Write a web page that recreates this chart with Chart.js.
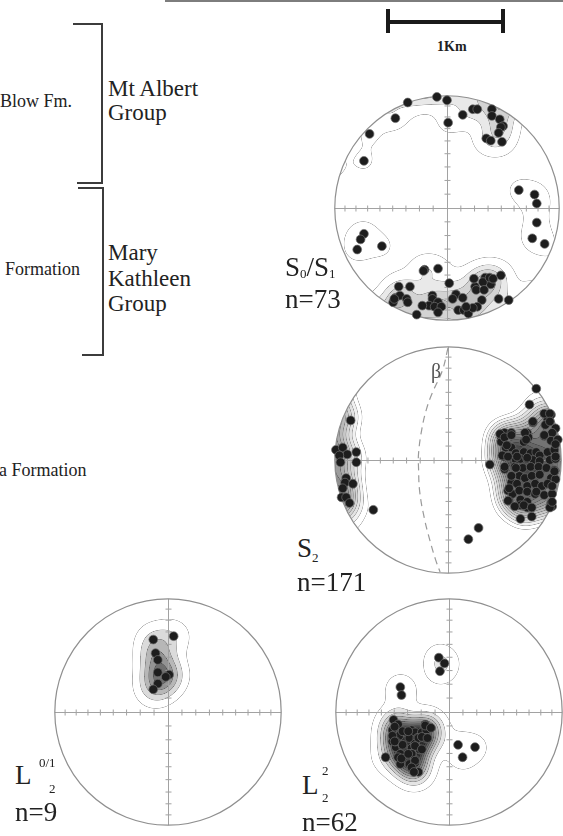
<!DOCTYPE html>
<html>
<head>
<meta charset="utf-8">
<script src="https://cdn.jsdelivr.net/npm/chart.js@4.4.1/dist/chart.umd.min.js"></script>
<style>
html, body { margin: 0; padding: 0; background: #fff; }
body { width: 563px; height: 836px; position: relative; overflow: hidden; color: #222; }
.t { position: absolute; white-space: nowrap; line-height: 1; z-index: 2;
     font-family: "Liberation Serif", "DejaVu Serif", "Noto Serif", "Times New Roman", serif; }
.sb { font-size: 13px; vertical-align: -2px; }
.ln { position: absolute; background: #3c3c3c; }
.net { position: absolute; width: 250px; height: 250px; z-index: 1; }
</style>
</head>
<body>

<div class="ln" style="left:165px;top:0;width:398px;height:2px;background:#7d7d7d"></div>

<!-- scale bar -->
<div class="ln" style="left:386px;top:9px;width:4px;height:24px;background:#1a1a1a"></div>
<div class="ln" style="left:501px;top:9px;width:4px;height:24px;background:#1a1a1a"></div>
<div class="ln" style="left:388px;top:20px;width:115px;height:4px;background:#1a1a1a"></div>
<div class="t" style="left:437px;top:40px;font-size:14px;font-weight:bold">1Km</div>

<!-- stratigraphy brackets -->
<div class="ln" style="left:73px;top:23px;width:30px;height:2px"></div>
<div class="ln" style="left:101px;top:23px;width:2px;height:161px"></div>
<div class="ln" style="left:77px;top:182px;width:26px;height:2px"></div>
<div class="ln" style="left:78px;top:187px;width:25px;height:2px"></div>
<div class="ln" style="left:102px;top:187px;width:2px;height:168px"></div>
<div class="ln" style="left:82px;top:354px;width:22px;height:2px"></div>

<div class="t" style="left:0;top:92px;font-size:18px">Blow Fm.</div>
<div class="t" style="left:108px;top:77px;font-size:23px">Mt Albert</div>
<div class="t" style="left:108px;top:101px;font-size:23px">Group</div>
<div class="t" style="left:5px;top:260px;font-size:18px">Formation</div>
<div class="t" style="left:108px;top:241px;font-size:23px">Mary</div>
<div class="t" style="left:108px;top:267px;font-size:23px">Kathleen</div>
<div class="t" style="left:108px;top:292px;font-size:23px">Group</div>
<div class="t" style="left:-1px;top:461px;font-size:18px">a Formation</div>

<!-- stereonets -->
<canvas id="netS01" class="net" width="250" height="250" style="left:322px;top:83px"></canvas>
<canvas id="netS2" class="net" width="250" height="250" style="left:323px;top:335px"></canvas>
<canvas id="netL01" class="net" width="250" height="250" style="left:43px;top:587px"></canvas>
<canvas id="netL2" class="net" width="250" height="250" style="left:324px;top:587px"></canvas>

<!-- labels -->
<div class="t" style="left:285px;top:254px;font-size:27px">S<span class="sb">0</span>/S<span class="sb">1</span></div>
<div class="t" style="left:285px;top:286px;font-size:27px">n=73</div>
<div class="t" style="left:297px;top:535px;font-size:27px">S<span class="sb" style="vertical-align:-5px">2</span></div>
<div class="t" style="left:297px;top:569px;font-size:27px">n=171</div>
<div class="t" style="left:431px;top:361px;font-size:20px;color:#555">β</div>
<div class="t" style="left:15px;top:762px;font-size:27px">L</div>
<div class="t" style="left:39px;top:756px;font-size:13px">0/1</div>
<div class="t" style="left:49px;top:782px;font-size:13px">2</div>
<div class="t" style="left:15px;top:799px;font-size:27px">n=9</div>
<div class="t" style="left:302px;top:772px;font-size:27px">L</div>
<div class="t" style="left:322px;top:764px;font-size:13px">2</div>
<div class="t" style="left:322px;top:791px;font-size:13px">2</div>
<div class="t" style="left:302px;top:809px;font-size:27px">n=62</div>

<script>
// poles / lineations, normalised to the primitive circle (radius 1)
const s01Points = [
  [-0.09, 0.99], [0.00, 0.96], [-0.35, 0.94], [-0.46, 0.80], [-0.69, 0.66], [0.01, 0.76],
  [0.14, 0.83], [0.23, 0.88], [0.27, 0.88], [0.40, 0.88], [0.40, 0.82], [0.47, 0.79],
  [0.50, 0.73], [0.48, 0.72], [0.46, 0.67], [0.35, 0.62], [0.39, 0.60], [0.49, 0.59],
  [-0.74, 0.42], [0.64, 0.16], [0.78, 0.12], [0.80, 0.04], [0.80, -0.13], [0.76, -0.27],
  [0.87, -0.32], [-0.74, -0.23], [-0.77, -0.28], [-0.80, -0.37], [-0.58, -0.34],
  [-0.20, -0.55], [-0.08, -0.54], [0.02, -0.67], [0.48, -0.60], [0.34, -0.62], [0.37, -0.65],
  [0.39, -0.68], [0.32, -0.66], [0.25, -0.70], [0.26, -0.73], [0.33, -0.73], [-0.43, -0.70],
  [-0.33, -0.70], [-0.13, -0.78], [0.08, -0.77], [0.14, -0.80], [0.05, -0.81], [0.31, -0.82],
  [0.46, -0.81], [0.55, -0.82], [-0.46, -0.80], [-0.42, -0.78], [-0.36, -0.81], [-0.48, -0.84],
  [-0.35, -0.84], [-0.13, -0.81], [-0.08, -0.84], [-0.16, -0.87], [-0.11, -0.88], [-0.05, -0.88],
  [-0.22, -0.87], [-0.08, -0.93], [0.10, -0.91], [0.15, -0.91], [0.19, -0.94], [0.27, -0.88],
  [0.23, -0.89], [-0.27, -0.95], [0.24, -0.63], [0.38, -0.62], [-0.47, -0.81], [-0.21, -0.56],
  [0.17, -0.88], [0.41, -0.63]
];

const s2Points = [
  [-0.86, 0.35], [-0.99, 0.09], [-0.93, 0.11], [-0.89, 0.05], [-0.81, 0.07], [-0.96, 0.04],
  [-0.95, -0.02], [-0.81, -0.02], [-0.90, -0.16], [-0.91, -0.20], [-0.84, -0.21], [-0.93, -0.25],
  [-0.94, -0.33], [-0.90, -0.33], [-0.87, -0.38], [-0.66, -0.44],
  [0.27, -0.60], [0.18, -0.70], [0.37, -0.04],
  [0.78, 0.63], [0.72, 0.49], [0.75, 0.33], [0.91, 0.40], [0.88, 0.36], [0.86, 0.31], [0.95, 0.28],
  [0.92, 0.24], [0.50, 0.24], [0.56, 0.24], [0.47, 0.20], [0.70, 0.24], [0.67, 0.16], [0.71, 0.20],
  [0.85, 0.21], [0.91, 0.17], [0.97, 0.18], [0.47, 0.16], [0.51, 0.11], [0.56, 0.11], [0.49, 0.03],
  [0.55, 0.03], [0.60, 0.06], [0.67, 0.07], [0.73, 0.06], [0.78, 0.07], [0.81, 0.04], [0.88, 0.07],
  [0.94, 0.09], [0.60, 0.00], [0.64, 0.01], [0.70, 0.01], [0.75, 0.00], [0.81, -0.01], [0.90, 0.00],
  [0.95, 0.01], [0.50, -0.08], [0.59, -0.06], [0.66, -0.07], [0.73, -0.06], [0.80, -0.06],
  [0.87, -0.07], [0.94, -0.09], [0.63, -0.14], [0.68, -0.16], [0.74, -0.14], [0.81, -0.13],
  [0.91, -0.16], [0.56, -0.20], [0.61, -0.21], [0.70, -0.23], [0.77, -0.21], [0.83, -0.23],
  [0.88, -0.21], [0.95, -0.17], [0.53, -0.27], [0.57, -0.30], [0.63, -0.27], [0.70, -0.28],
  [0.77, -0.30], [0.85, -0.31], [0.92, -0.30], [0.54, -0.36], [0.64, -0.35], [0.70, -0.37],
  [0.64, -0.40], [0.70, -0.42], [0.91, -0.38], [0.92, -0.41], [0.90, -0.42], [0.74, -0.50],
  [0.64, -0.52], [0.46, 0.23], [0.50, 0.20], [0.56, 0.22], [0.68, 0.24], [0.69, 0.18], [0.75, 0.34],
  [0.85, 0.41], [0.90, 0.41], [0.90, 0.34], [0.85, 0.22], [0.52, 0.13], [0.48, 0.04], [0.53, 0.03],
  [0.61, 0.03], [0.70, 0.02], [0.60, -0.07], [0.50, -0.06], [0.56, -0.14], [0.54, -0.25],
  [0.53, -0.36], [0.59, -0.41], [0.67, -0.40], [0.74, -0.42], [0.78, -0.28], [0.92, -0.37],
  [0.92, -0.23], [0.94, -0.10], [0.95, 0.03], [0.95, 0.14]
];

// dashed beta great circle on the S2 net
const betaArc = [
  [0.00, 0.99], [-0.05, 0.79], [-0.14, 0.59], [-0.19, 0.45], [-0.23, 0.28], [-0.26, 0.06],
  [-0.26, -0.08], [-0.25, -0.28], [-0.21, -0.51], [-0.16, -0.71], [-0.11, -0.88], [-0.07, -0.99]
];

const l01Points = [
  [-0.13, 0.64], [0.05, 0.67], [-0.11, 0.52], [-0.09, 0.46], [-0.09, 0.35], [0.01, 0.33],
  [-0.02, 0.31], [-0.09, 0.25], [-0.13, 0.20]
];

const l2Points = [
  [-0.09, 0.48], [-0.04, 0.43], [-0.08, 0.36], [-0.43, 0.22], [-0.42, 0.15], [0.08, -0.29],
  [0.23, -0.31], [0.12, -0.40], [-0.56, -0.40],
  [-0.46, -0.11], [-0.50, -0.16], [-0.44, -0.21], [-0.50, -0.26], [-0.38, -0.18], [-0.33, -0.16],
  [-0.30, -0.18], [-0.24, -0.18], [-0.21, -0.11], [-0.16, -0.14], [-0.20, -0.16], [-0.35, -0.23],
  [-0.28, -0.23], [-0.21, -0.23], [-0.19, -0.23], [-0.47, -0.31], [-0.41, -0.30], [-0.33, -0.32],
  [-0.26, -0.33], [-0.30, -0.28], [-0.43, -0.37], [-0.45, -0.40], [-0.41, -0.42], [-0.33, -0.37],
  [-0.30, -0.42], [-0.35, -0.46], [-0.33, -0.50], [-0.30, -0.45], [-0.27, -0.53], [-0.31, -0.53],
  [-0.43, -0.46], [-0.47, -0.26], [-0.49, -0.07], [-0.45, -0.11], [-0.48, -0.13], [-0.50, -0.21],
  [-0.41, -0.17], [-0.36, -0.17], [-0.27, -0.23], [-0.24, -0.22], [-0.21, -0.12], [-0.16, -0.14],
  [-0.19, -0.23], [-0.30, -0.30], [-0.33, -0.37], [-0.24, -0.33], [-0.42, -0.41], [-0.36, -0.37],
  [-0.30, -0.43], [-0.33, -0.49], [-0.31, -0.53], [-0.41, -0.29], [-0.48, -0.26]
];

// equal-area tick marks every 10 degrees of plunge
const tickPlunges = [10, 20, 30, 40, 50, 60, 70, 80];

// contouring settings per net
const netConfig = {
  netS01: { points: s01Points, sigma: 0.095, base: 0.8, step: 1.9, shade: 22, minGray: 150, lineDark: 0.68 },
  netS2:  { points: s2Points, sigma: 0.11, base: 2.3, step: 1.15, shade: 14, minGray: 70, lineDark: 0.68 },
  netL01: { points: l01Points, sigma: 0.11, base: 0.5, step: 0.85, shade: 36, minGray: 80, lineDark: 0.68 },
  netL2:  { points: l2Points, sigma: 0.09, base: 0.6, step: 1.45, shade: 26, minGray: 45, lineDark: 0.68 }
};

function eqArea(plunge) {
  return Math.SQRT2 * Math.sin((90 - plunge) / 2 * Math.PI / 180);
}

function contourImage(chart, o, cx, cy, R) {
  const xs = chart.scales.x, ys = chart.scales.y;
  const x0 = Math.floor(cx - R) - 2, y0 = Math.floor(cy - R) - 2;
  const n = Math.ceil(2 * R) + 5;
  // include antipodes so clusters near the primitive wrap round
  const src = [];
  o.points.forEach(p => {
    src.push(p);
    const r = Math.hypot(p[0], p[1]);
    if (r > 0.6) {
      const k = (2 - r) / r;
      src.push([-p[0] * k, -p[1] * k]);
    }
  });
  const ux = [], vy = [];
  for (let i = 0; i < n; i++) {
    ux.push(xs.getValueForPixel(x0 + i + 0.5));
    vy.push(ys.getValueForPixel(y0 + i + 0.5));
  }
  const s2 = 2 * o.sigma * o.sigma, cut = 9 * s2;
  const f = new Float32Array(n * n);
  for (let j = 0; j < n; j++) {
    for (let i = 0; i < n; i++) {
      let d = 0;
      for (const q of src) {
        const a = ux[i] - q[0], b = vy[j] - q[1], e = a * a + b * b;
        if (e < cut) d += Math.exp(-e / s2);
      }
      f[j * n + i] = (d - o.base) / o.step + 1;
    }
  }
  const off = document.createElement('canvas');
  off.width = n;
  off.height = n;
  const octx = off.getContext('2d');
  const img = octx.createImageData(n, n);
  for (let j = 1; j < n - 1; j++) {
    for (let i = 1; i < n - 1; i++) {
      const k = j * n + i, v = f[k];
      const lev = Math.floor(v);
      let fill = 255;
      if (lev >= 2) fill = Math.max(o.minGray, 255 - (lev - 1) * o.shade);
      let c = fill;
      const m = Math.round(v);
      if (m >= 1) {
        const gx = (f[k + 1] - f[k - 1]) / 2, gy = (f[k + n] - f[k - n]) / 2;
        const g = Math.hypot(gx, gy) + 1e-6;
        const a = Math.max(0, 1 - Math.abs(v - m) / g / 0.6);
        c = fill * (1 - a) + fill * o.lineDark * a;
      }
      img.data[k * 4] = img.data[k * 4 + 1] = img.data[k * 4 + 2] = c;
      img.data[k * 4 + 3] = 255;
    }
  }
  octx.putImageData(img, 0, 0);
  return { canvas: off, x0, y0 };
}

const stereonet = {
  id: 'stereonet',
  beforeDatasetsDraw(chart) {
    const o = netConfig[chart.canvas.id];
    const ctx = chart.ctx;
    const xs = chart.scales.x, ys = chart.scales.y;
    const cx = xs.getPixelForValue(0), cy = ys.getPixelForValue(0);
    const R = xs.getPixelForValue(1) - cx;

    const im = contourImage(chart, o, cx, cy, R);
    ctx.save();
    ctx.beginPath();
    ctx.arc(cx, cy, R, 0, Math.PI * 2);
    ctx.clip();
    ctx.drawImage(im.canvas, im.x0, im.y0);
    ctx.restore();

    ctx.save();
    ctx.strokeStyle = '#a2a2a2';
    ctx.lineWidth = 1;
    const ax = Math.round(cx) + 0.5, ay = Math.round(cy) + 0.5;
    ctx.beginPath();
    ctx.moveTo(cx - R, ay); ctx.lineTo(cx + R, ay);
    ctx.moveTo(ax, cy - R); ctx.lineTo(ax, cy + R);
    tickPlunges.forEach(p => {
      const r = eqArea(p);
      [-r, r].forEach(v => {
        const px = xs.getPixelForValue(v), py = ys.getPixelForValue(v);
        ctx.moveTo(px, ay - 3); ctx.lineTo(px, ay + 3);
        ctx.moveTo(ax - 3, py); ctx.lineTo(ax + 3, py);
      });
    });
    ctx.stroke();
    ctx.strokeStyle = '#8f8f8f';
    ctx.lineWidth = 1.2;
    ctx.beginPath();
    ctx.arc(cx, cy, R, 0, Math.PI * 2);
    ctx.stroke();
    ctx.restore();
  }
};

function buildNet(id, pts, half, extra) {
  const datasets = [{
    data: pts.map(p => ({ x: p[0], y: p[1] })),
    pointRadius: 4.4,
    pointBackgroundColor: '#1d1d1d',
    pointBorderColor: '#6e6e6e',
    pointBorderWidth: 0.7,
    showLine: false
  }];
  if (extra) datasets.push(extra);
  return new Chart(document.getElementById(id), {
    type: 'scatter',
    data: { datasets },
    options: {
      responsive: false,
      animation: false,
      events: [],
      layout: { padding: 0 },
      plugins: { legend: { display: false }, tooltip: { enabled: false } },
      scales: {
        x: { type: 'linear', display: false, min: -half, max: half },
        y: { type: 'linear', display: false, min: -half, max: half }
      }
    },
    plugins: [stereonet]
  });
}

buildNet('netS01', s01Points, 125 / 117);
buildNet('netS2', s2Points, 125 / 118, {
  data: betaArc.map(p => ({ x: p[0], y: p[1] })),
  showLine: true,
  borderColor: '#9a9a9a',
  borderWidth: 1.2,
  borderDash: [7, 5],
  pointRadius: 0,
  tension: 0.4,
  fill: false
});
buildNet('netL01', l01Points, 125 / 118);
buildNet('netL2', l2Points, 125 / 118);
</script>
</body>
</html>
